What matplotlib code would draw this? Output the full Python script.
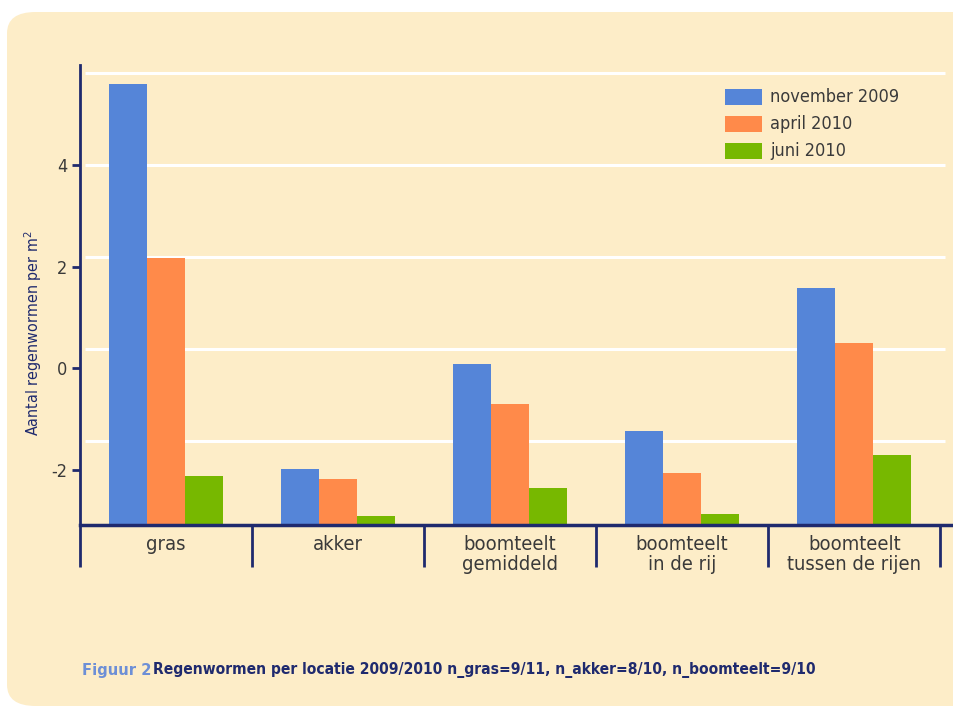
import matplotlib
matplotlib.use("Agg")
import matplotlib.pyplot as plt
from matplotlib.patches import FancyBboxPatch, Rectangle
import numpy as np

plt.rcParams['font.family'] = ['DejaVu Sans']
plt.rcParams['font.stretch'] = 'condensed'

categories = ["gras", "akker", "boomteelt\ngemiddeld", "boomteelt\nin de rij", "boomteelt\ntussen de rijen"]
series_names = ["november 2009", "april 2010", "juni 2010"]
nov2009 = [5.60, -1.99, 0.08, -1.24, 1.58]
apr2010 = [2.17, -2.19, -0.71, -2.07, 0.49]
jun2010 = [-2.13, -2.92, -2.36, -2.88, -1.71]
yticks = [-2, 0, 2, 4]
gridlines = [5.81, 4.0, 2.19, 0.38, -1.43]
baseline = -3.09

colors = ["#5585D8", "#FF8A4A", "#77B800"]
navy = "#1F2A6E"
cream = "#FDEDC8"
textc = "#3A3A3A"

fig = plt.figure(figsize=(9.54, 7.08), dpi=100)
fig.patch.set_facecolor("white")
bg = FancyBboxPatch((7/954, 2/708), 1.2, (708-14)/708, boxstyle="round,pad=0,rounding_size=0.03",
                    transform=fig.transFigure, facecolor=cream, edgecolor="none", zorder=-10)
fig.patches.append(bg)

ax = fig.add_axes([80/954, (708-525)/708, 874/954, (525-65)/708])
ax.set_facecolor("none")
ax.set_xlim(-0.5, 4.58)
ax.set_ylim(baseline, 5.97)

for g in gridlines:
    ax.plot([-0.47, 4.53], [g, g], color="white", lw=2.2, zorder=1, solid_capstyle="butt")

x = np.arange(len(categories))
w = 0.221
for i, (vals, c, name) in enumerate(zip([nov2009, apr2010, jun2010], colors, series_names)):
    heights = [v - baseline for v in vals]
    ax.bar(x + (i - 1) * w, heights, width=w, bottom=baseline, color=c, zorder=2, label=name)

for s in ["top", "right"]:
    ax.spines[s].set_visible(False)
ax.spines["left"].set_color(navy)
ax.spines["left"].set_linewidth(2)
ax.spines["bottom"].set_color(navy)
ax.spines["bottom"].set_linewidth(2.5)

ax.set_yticks(yticks)
ax.set_yticklabels([str(t) for t in yticks], fontsize=13, color=textc)
ax.tick_params(axis="y", direction="out", length=6, width=2, color=navy, pad=3)

ax.set_xticks(np.arange(-0.5, 5.0, 1.0))
ax.set_xticklabels([])
ax.tick_params(axis="x", which="major", direction="out", length=30, width=2, color=navy)
ax.set_xticks(x, minor=True)
ax.set_xticklabels(categories, minor=True, fontsize=14.5, color=textc, linespacing=1.1)
ax.tick_params(axis="x", which="minor", length=0, pad=7)

fig.text(33/954, 1 - 333/708, "Aantal regenwormen per m$^2$", rotation=90, color=navy,
         fontsize=11.5, ha="center", va="center")

# legend
lx0, lx1 = 725, 762
for i, (name, c) in enumerate(zip(series_names, colors)):
    yc = 97 + i * 27
    fig.patches.append(Rectangle((lx0/954, 1 - (yc + 8)/708), (lx1 - lx0)/954, 16/708,
                                 transform=fig.transFigure, facecolor=c, edgecolor="none"))
    fig.text(770/954, 1 - yc/708, name, fontsize=13, color=textc, va="center", ha="left")

fig.text(82/954, 1 - 670/708, "Figuur 2", color="#6D8FD6", fontsize=11.8, va="center", ha="left",
         fontweight="bold")
fig.text(153/954, 1 - 670/708, "Regenwormen per locatie 2009/2010 n_gras=9/11, n_akker=8/10, n_boomteelt=9/10",
         color=navy, fontsize=11.2, va="center", ha="left", fontweight="bold")

fig.savefig("out.png", dpi=100, facecolor=fig.get_facecolor())
